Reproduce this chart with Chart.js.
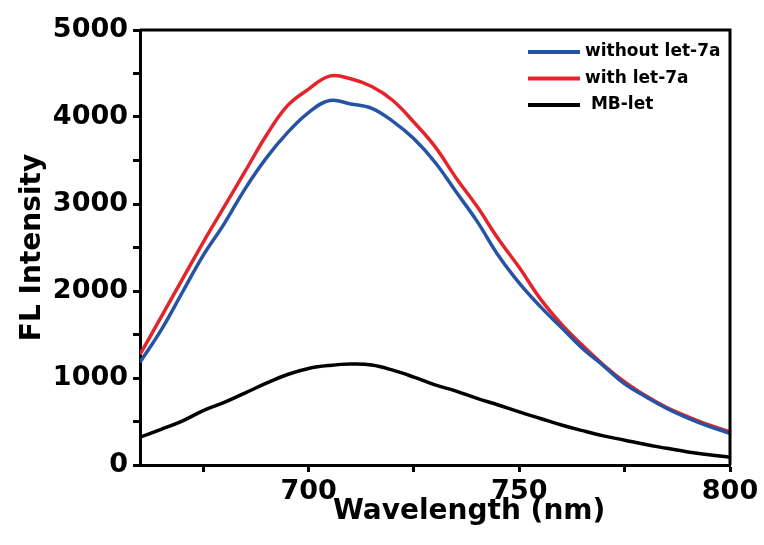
<!DOCTYPE html>
<html>
<head>
<meta charset="utf-8">
<script src="https://cdn.jsdelivr.net/npm/chart.js@4.4.1/dist/chart.umd.min.js"></script>
<style>
  html, body { margin: 0; padding: 0; background: #fff; }
  #wrap { width: 764px; height: 545px; }
</style>
</head>
<body>
<div id="wrap"><canvas id="flChart" width="764" height="545"></canvas></div>
<script>
// Wavelength grid (nm) and intensities
const wavelengths = [660, 665, 670, 675, 680, 685, 690, 695, 700, 705, 710, 715, 720, 725, 730,
    735, 740, 745, 750, 755, 760, 765, 770, 775, 780, 785, 790, 795, 800];
const withoutLet7a = [1180, 1550, 1980, 2410, 2775, 3180, 3530, 3820, 4050, 4190, 4150, 4100, 3950, 3750, 3480,
    3140, 2800, 2410, 2090, 1820, 1580, 1340, 1140, 932, 785, 650, 540, 445, 365];
const withLet7a = [1270, 1700, 2130, 2560, 2970, 3380, 3790, 4130, 4320, 4470, 4440, 4350, 4190, 3940, 3660,
    3300, 2970, 2600, 2270, 1910, 1620, 1375, 1150, 955, 795, 660, 555, 460, 380];
const mbLet = [320, 410, 505, 625, 720, 830, 940, 1040, 1110, 1145, 1160, 1150, 1090, 1010, 920,
    850, 765, 690, 610, 535, 460, 395, 335, 285, 235, 192, 150, 118, 90];

const seriesLabels = ['without let-7a', 'with let-7a', ' MB-let'];
const seriesColors = ['#2653a3', '#e3242b', '#000000'];
const xTickValues = [675, 700, 725, 750, 775, 800];
const xTickLabels = [700, 750, 800];

Chart.defaults.font.family = 'DejaVu Sans';
Chart.defaults.font.weight = 'bold';
Chart.defaults.color = '#000';

function toPoints(ys) {
    return wavelengths.map((x, i) => ({ x: x, y: ys[i] }));
}

// frame on top/right like the origin-style box
const framePlugin = {
    id: 'frame',
    afterDraw(chart) {
        const { ctx, chartArea: a } = chart;
        ctx.save();
        ctx.strokeStyle = '#000';
        ctx.lineWidth = 3;
        ctx.beginPath();
        ctx.moveTo(a.left, a.top);
        ctx.lineTo(a.right, a.top);
        ctx.lineTo(a.right, a.bottom);
        ctx.stroke();
        ctx.restore();
    }
};

// legend inside the plot, top right
const insideLegend = {
    id: 'insideLegend',
    afterDraw(chart) {
        const { ctx } = chart;
        ctx.save();
        ctx.font = 'bold 17px "DejaVu Sans"';
        ctx.textBaseline = 'middle';
        ctx.textAlign = 'left';
        chart.data.datasets.forEach((ds, i) => {
            const y = 52 + i * 26.5;
            ctx.strokeStyle = ds.borderColor;
            ctx.lineWidth = 4;
            ctx.beginPath();
            ctx.moveTo(528, y);
            ctx.lineTo(580, y);
            ctx.stroke();
            ctx.fillStyle = '#000';
            ctx.fillText(ds.label, 585, y);
        });
        ctx.restore();
    }
};

const datasets = [withoutLet7a, withLet7a, mbLet].map((ys, i) => ({
    label: seriesLabels[i],
    data: toPoints(ys),
    borderColor: seriesColors[i],
    borderWidth: 3.5,
    pointRadius: 0,
    tension: 0.4,
    fill: false
}));

new Chart(document.getElementById('flChart').getContext('2d'), {
    type: 'line',
    data: { datasets: datasets },
    options: {
        responsive: false,
        animation: false,
        devicePixelRatio: 1,
        layout: { padding: { top: 30, right: 34, left: 0, bottom: 0 } },
        plugins: {
            legend: { display: false },
            tooltip: { enabled: false }
        },
        scales: {
            x: {
                type: 'linear',
                min: 660,
                max: 800,
                afterFit(scale) { scale.height = 80; },
                afterBuildTicks(scale) {
                    scale.ticks = xTickValues.map(v => ({ value: v }));
                },
                border: { display: true, color: '#000', width: 3 },
                grid: { display: true, drawOnChartArea: false, drawTicks: true, tickLength: 7, tickWidth: 3, color: '#000' },
                ticks: {
                    padding: 4,
                    autoSkip: false,
                    maxRotation: 0,
                    font: { size: 27, weight: 'bold' },
                    callback: v => xTickLabels.includes(v) ? String(v) : ''
                },
                title: {
                    display: true,
                    text: '\u00a0\u00a0\u00a0\u00a0\u00a0\u00a0\u00a0Wavelength (nm)',
                    font: { size: 28, weight: 'bold' },
                    padding: { top: 0, bottom: 16 }
                }
            },
            y: {
                min: 0,
                max: 5000,
                afterFit(scale) { scale.width = 140; },
                border: { display: true, color: '#000', width: 3 },
                grid: { display: true, drawOnChartArea: false, drawTicks: true, tickLength: 7, tickWidth: 3, color: '#000' },
                ticks: {
                    stepSize: 500,
                    padding: 5,
                    autoSkip: false,
                    font: { size: 27, weight: 'bold' },
                    callback: v => v % 1000 === 0 ? String(v) : ''
                },
                title: {
                    display: true,
                    text: 'FL Intensity',
                    font: { size: 28, weight: 'bold' },
                    padding: { top: 16, bottom: 0 }
                }
            }
        }
    },
    plugins: [framePlugin, insideLegend]
});
</script>
</body>
</html>
